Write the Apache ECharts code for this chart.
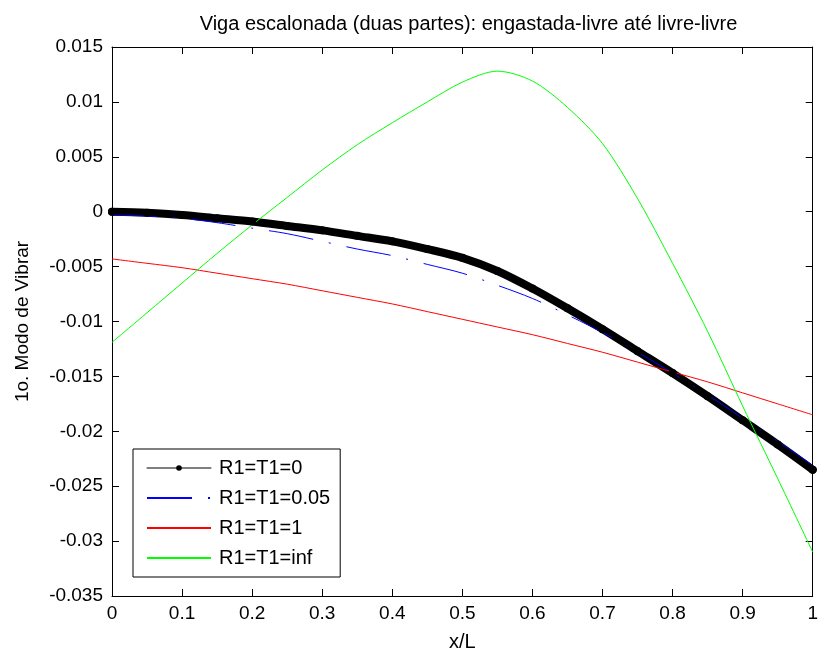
<!DOCTYPE html>
<html>
<head>
<meta charset="utf-8">
<script src="https://cdn.jsdelivr.net/npm/echarts@6/dist/echarts.min.js"></script>
<style>html,body{margin:0;padding:0;background:#fff}#c{width:821px;height:657px}</style>
</head>
<body>
<div id="c"></div>
<script>
var titleText = 'Viga escalonada (duas partes): engastada-livre até livre-livre';
var xName = 'x/L';
var yName = '1o. Modo de Vibrar';
var seriesNames = ['R1=T1=0', 'R1=T1=0.05', 'R1=T1=1', 'R1=T1=inf'];
var xs = [0, 0.05, 0.1, 0.15, 0.2, 0.25, 0.3, 0.35, 0.4, 0.45, 0.5, 0.55, 0.6, 0.65, 0.7, 0.75, 0.8, 0.85, 0.9, 0.95, 1.0];
var yR0 = [0, -0.0001, -0.0003, -0.0006, -0.0009, -0.0013, -0.0017, -0.0022, -0.0027, -0.0034, -0.0042, -0.0054, -0.0070, -0.0088, -0.0107, -0.0127, -0.0147, -0.0168, -0.0190, -0.0212, -0.0235];
var yR005 = [-0.0003, -0.0004, -0.0006, -0.0010, -0.0015, -0.0020, -0.0027, -0.0034, -0.0040, -0.0048, -0.0056, -0.0067, -0.0079, -0.0094, -0.0110, -0.0128, -0.0147, -0.0167, -0.0188, -0.0209, -0.0231];
var yR1 = [-0.0043, -0.0047, -0.0051, -0.0056, -0.0061, -0.0066, -0.0072, -0.0078, -0.0084, -0.0091, -0.0098, -0.0105, -0.0112, -0.0120, -0.0128, -0.0137, -0.0146, -0.0155, -0.0165, -0.0175, -0.0185];
var yRinf = [-0.0119, -0.0092, -0.0065, -0.0038, -0.0012, 0.0013, 0.0038, 0.0061, 0.0081, 0.0100, 0.0118, 0.0128, 0.0119, 0.0095, 0.0062, 0.0012, -0.0047, -0.0109, -0.0177, -0.0243, -0.0310];

function pairs(ys){ return xs.map(function(x,i){ return [x, ys[i]]; }); }
var FONT = 'Liberation Sans, Arial, sans-serif';
function fmt(v){ return String(+(+v).toFixed(3)); }

var chart = echarts.init(document.getElementById('c'), null, {renderer:'canvas'});
var axisCommon = {
  axisLine: {show:true, onZero:false, lineStyle:{color:'#000', width:1}},
  axisTick: {show:true, inside:true, length:7, lineStyle:{color:'#000', width:1}},
  splitLine: {show:false}
};
chart.setOption({
  animation: false,
  backgroundColor: '#fff',
  title: {
    text: titleText, left: 463.5, top: 9, textAlign: 'center',
    textStyle: {fontFamily: FONT, fontSize: 20, fontWeight: 'normal', color: '#000'}
  },
  grid: {left: 112, right: 6, top: 47, bottom: 55, containLabel: false},
  legend: {
    orient: 'vertical', left: 133, top: 449,
    backgroundColor: '#fff', borderColor: '#000', borderWidth: 1,
    padding: [9, 10, 9, 13],
    itemWidth: 64, itemHeight: 7, itemGap: 10,
    textStyle: {fontFamily: FONT, fontSize: 20, color: '#000', padding:[0,0,0,3]},
    data: [
      {name: seriesNames[0], lineStyle: {width: 1}},
      {name: seriesNames[1], itemStyle: {opacity: 0}},
      {name: seriesNames[2], itemStyle: {opacity: 0}},
      {name: seriesNames[3], itemStyle: {opacity: 0}}
    ]
  },
  xAxis: [
    Object.assign({type:'value', min:0, max:1, interval:0.1, position:'bottom',
      name: xName, nameLocation:'middle', nameGap: 36,
      nameTextStyle:{fontFamily:FONT, fontSize:20, color:'#000'},
      axisLabel:{fontFamily:FONT, fontSize:19, color:'#000', margin:8, formatter: fmt}}, axisCommon),
    Object.assign({type:'value', min:0, max:1, interval:0.1, position:'top',
      axisLabel:{show:false}}, axisCommon)
  ],
  yAxis: [
    Object.assign({type:'value', min:-0.035, max:0.015, interval:0.005, position:'left',
      name: yName, nameLocation:'middle', nameGap: 80, nameRotate: 90,
      nameTextStyle:{fontFamily:FONT, fontSize:19, color:'#000'},
      axisLabel:{fontFamily:FONT, fontSize:19, color:'#000', margin:9, formatter: fmt}}, axisCommon),
    Object.assign({type:'value', min:-0.035, max:0.015, interval:0.005, position:'right',
      axisLabel:{show:false}}, axisCommon)
  ],
  series: [
    {name: seriesNames[0], type:'line', data: pairs(yR0), smooth: 0.3,
     symbol:'circle', symbolSize: 8, showSymbol: true,
     itemStyle:{color:'#000'}, lineStyle:{color:'#000', width:8, cap:'round', join:'round'}},
    {name: seriesNames[1], type:'line', data: pairs(yR005), smooth: 0.3, symbol:'none',
     itemStyle:{color:'#0000ff'}, lineStyle:{color:'#0000ff', width:1, type:[45,16,2,16]}},
    {name: seriesNames[2], type:'line', data: pairs(yR1), smooth: 0.3, symbol:'none',
     itemStyle:{color:'#ff0000'}, lineStyle:{color:'#ff0000', width:1}},
    {name: seriesNames[3], type:'line', data: pairs(yRinf), smooth: 0.3, symbol:'none',
     itemStyle:{color:'#00ff00'}, lineStyle:{color:'#00ff00', width:1}}
  ]
});
</script>
</body>
</html>
